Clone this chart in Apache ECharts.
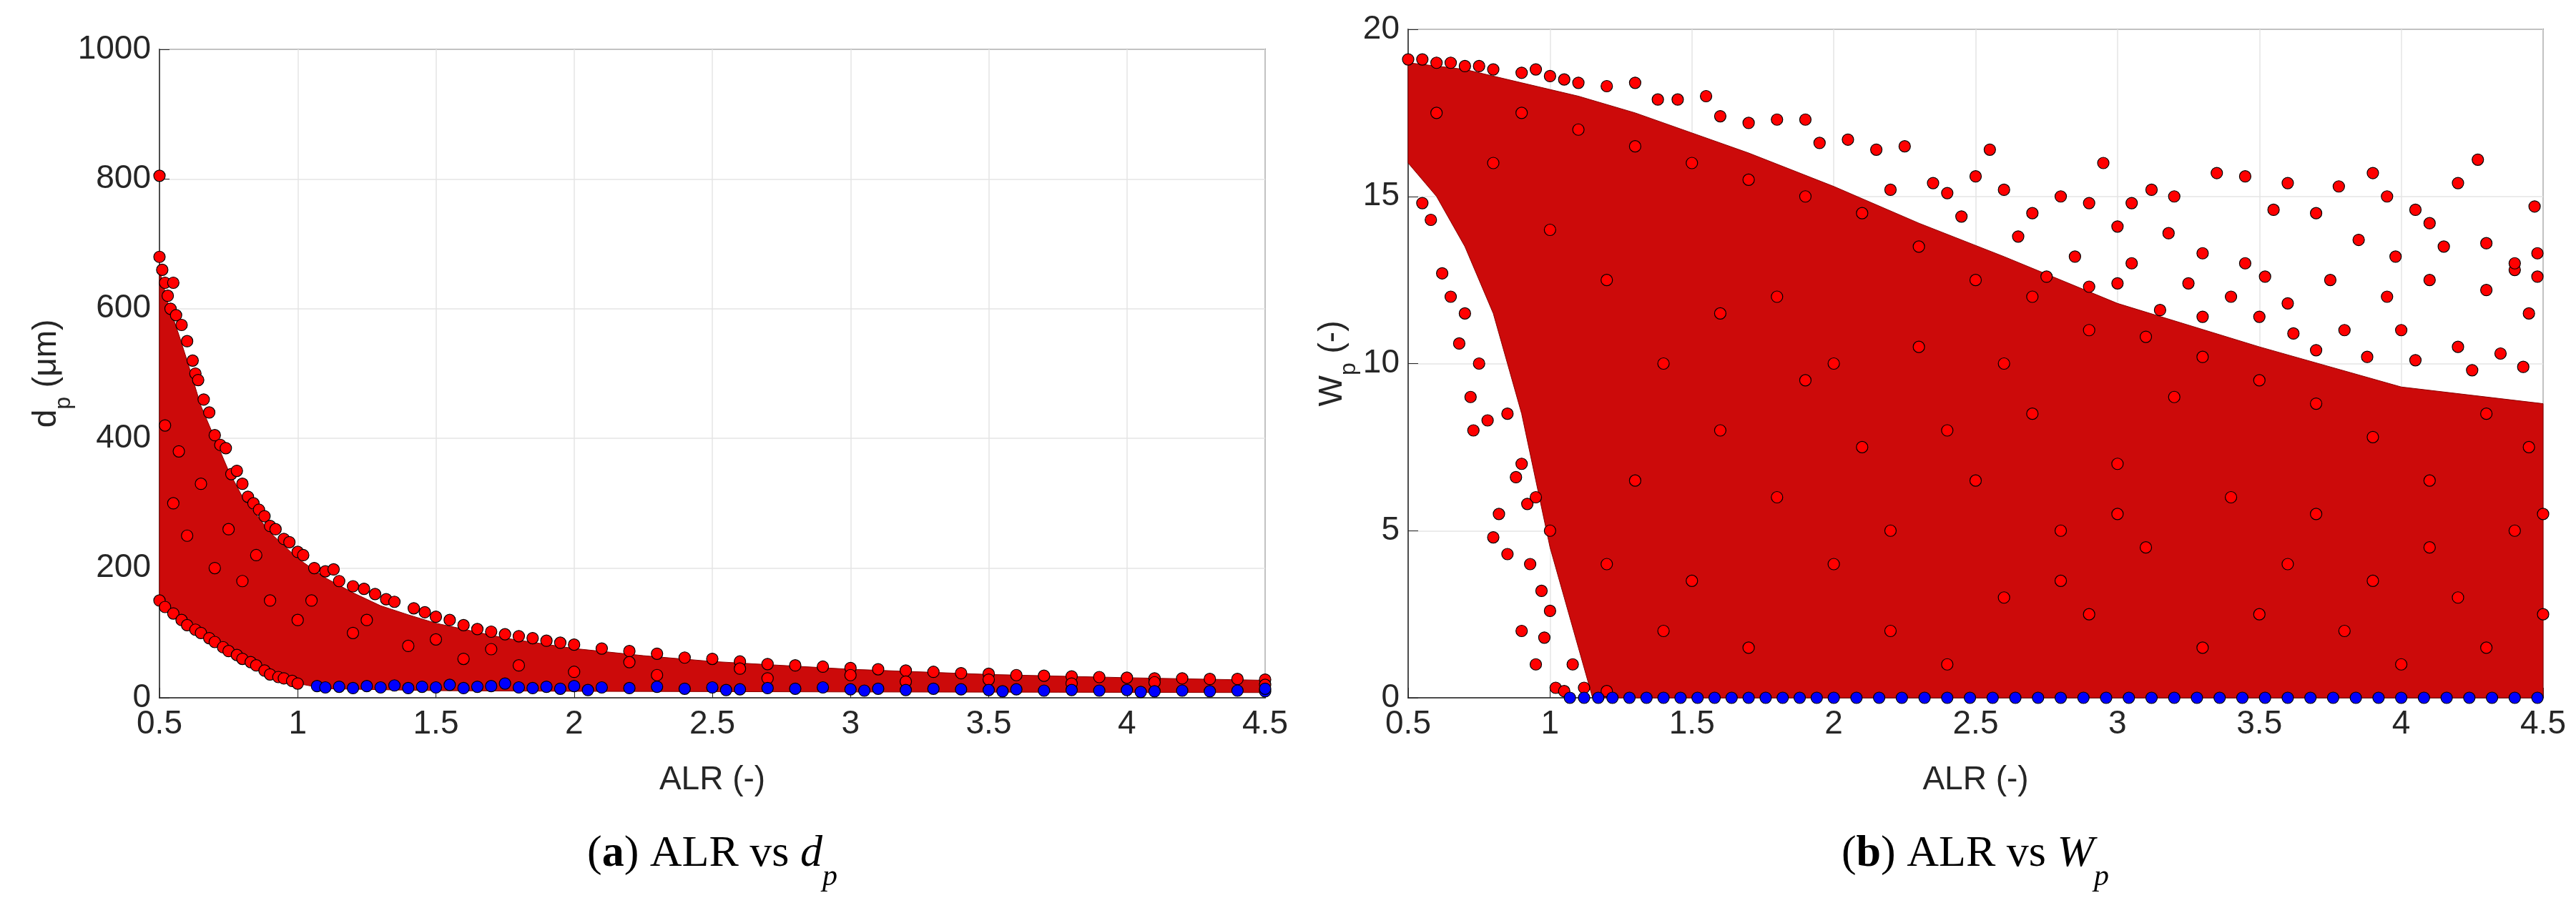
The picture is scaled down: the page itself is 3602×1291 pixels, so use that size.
<!DOCTYPE html>
<html><head><meta charset="utf-8">
<script src="https://cdn.jsdelivr.net/npm/echarts@6/dist/echarts.min.js"></script>
<style>html,body{margin:0;padding:0;background:#fff}#c{width:3602px;height:1291px}</style>
</head><body><div id="c"></div>
<script>
// ---- Panel (a): ALR vs dp ----
const xTicks = [0.5,1,1.5,2,2.5,3,3.5,4,4.5];
const dpDenseEnvelope = [[0.5,660],[0.53,610],[0.57,560],[0.6,520],[0.65,450],[0.7,400],[0.75,350],[0.8,310],[0.9,255],[1.0,215],[1.1,185],[1.2,162],[1.3,142],[1.4,128],[1.5,115],[1.75,92],[2,76],[2.25,65],[2.5,56],[3,44],[3.5,36],[4,31],[4.5,27],
  [4.5,8],[3,9],[2,10],[1.5,11],[1.1,14],[1.0,22],[0.95,30],[0.9,38],[0.85,50],[0.8,62],[0.75,72],[0.7,88],[0.65,100],[0.6,115],[0.55,132],[0.5,150]];
const dpRed = [[0.5,805],[0.5,680],[0.51,660],[0.52,640],[0.53,620],[0.54,600],[0.55,640],[0.56,590],[0.58,575],[0.6,550],[0.62,520],[0.63,500],[0.64,490],[0.66,460],[0.68,440],[0.7,405],[0.72,390],[0.74,385],[0.76,345],[0.78,350],[0.8,330],[0.82,310],[0.84,300],[0.86,290],[0.88,280],[0.9,265],[0.92,260],[0.95,245],[0.97,240],[1.0,225],[1.02,220],[1.06,200],[1.1,195],[1.13,198],[1.15,180],[1.2,172],[1.24,168],[1.28,160],[1.32,152],[1.35,148],[1.42,138],[1.46,132],[1.5,125],[1.55,120],[1.6,112],[1.65,106],[1.7,102],[1.75,98],[1.8,95],[1.85,92],[1.9,88],[1.95,85],[2.0,82],[2.1,76],[2.2,72],[2.3,68],[2.4,62],[2.5,60],[2.6,56],[2.7,52],[2.8,50],[2.9,48],[3.0,46],[3.1,44],[3.2,42],[3.3,40],[3.4,38],[3.5,37],[3.6,35],[3.7,34],[3.8,33],[3.9,32],[4.0,31],[4.1,30],[4.2,30],[4.3,29],[4.4,29],[4.5,28],[4.5,20],
  [0.5,150],[0.52,140],[0.55,130],[0.58,120],[0.6,112],[0.63,105],[0.65,100],[0.68,92],[0.7,86],[0.73,78],[0.75,72],[0.78,66],[0.8,60],[0.83,55],[0.85,50],[0.88,42],[0.9,36],[0.93,32],[0.95,30],[0.98,26],[1.0,22],
  [0.55,300],[0.6,250],[0.7,200],[0.8,180],[0.9,150],[1.0,120],[1.2,100],[1.4,80],[1.6,60],[1.8,50],[2.0,40],[2.3,35],[2.7,30],[3.2,25],[3.8,22],[0.52,420],[0.57,380],[0.65,330],[0.75,260],[0.85,220],[1.05,150],[1.25,120],[1.5,90],[1.7,75],[2.2,55],[2.6,45],[3.0,35],[3.5,28],[4.1,24]];
const dpBlue = [[1.07,18],[1.1,16],[1.15,17],[1.2,15],[1.25,18],[1.3,16],[1.35,19],[1.4,15],[1.45,17],[1.5,16],[1.55,20],[1.6,15],[1.65,17],[1.7,18],[1.75,22],[1.8,16],[1.85,15],[1.9,17],[1.95,14],[2.0,18],[2.1,16],[2.2,15],[2.3,17],[2.4,14],[2.5,16],[2.6,13],[2.7,15],[2.8,14],[2.9,16],[3.0,13],[3.1,14],[3.2,12],[3.3,14],[3.4,13],[3.5,12],[3.6,13],[3.7,11],[3.8,12],[3.9,11],[4.0,12],[4.1,10],[4.2,11],[4.3,10],[4.4,11],[4.5,10],[4.5,14],[2.05,12],[2.55,12],[3.05,11],[3.55,10],[4.05,9]];

// ---- Panel (b): ALR vs Wp ----
const wpDenseEnvelope = [[0.5,19.0],[0.7,18.8],[0.9,18.4],[1.1,18.0],[1.3,17.5],[1.5,16.9],[1.7,16.3],[2.0,15.3],[2.3,14.2],[2.6,13.2],[3.0,11.8],[3.5,10.5],[4.0,9.3],[4.5,8.8],
  [4.5,0],[1.15,0],[1.1,1.5],[1.05,3],[1.0,4.5],[0.95,6.5],[0.9,8.5],[0.85,10],[0.8,11.5],[0.7,13.5],[0.6,15],[0.5,16]];
const wpRed = [[0.5,19.1],[0.55,19.1],[0.6,19.0],[0.65,19.0],[0.7,18.9],[0.75,18.9],[0.8,18.8],[0.9,18.7],[0.95,18.8],[1.0,18.6],[1.05,18.5],[1.1,18.4],[1.2,18.3],[1.3,18.4],[1.38,17.9],[1.45,17.9],[1.55,18.0],[1.6,17.4],[1.7,17.2],[1.8,17.3],[1.9,17.3],[1.95,16.6],[2.05,16.7],[2.15,16.4],[2.25,16.5],[2.35,15.4],[2.4,15.1],[2.55,16.4],[2.5,15.6],[2.6,15.2],[2.7,14.5],[2.8,15.0],[2.9,14.8],[2.95,16.0],[3.0,14.1],[3.05,14.8],[3.12,15.2],[3.2,15.0],[3.35,15.7],[3.45,15.6],[3.6,15.4],[3.7,14.5],[3.78,15.3],[3.9,15.7],[3.95,15.0],[4.05,14.6],[4.2,15.4],[4.27,16.1],[4.47,14.7],[4.48,13.3],[4.3,13.6],[4.1,14.2],[3.85,13.7],[3.55,14.6],[3.45,13.0],[3.3,13.3],[3.18,13.9],[3.05,13.0],[2.85,13.2],[2.75,12.6],[3.4,12.0],[3.6,11.8],[3.75,12.5],[3.95,12.0],[4.1,12.5],[4.3,12.2],[4.4,12.8],[4.45,11.5],[4.35,10.3],[4.2,10.5],[4.0,11.0],[3.8,11.0],[3.62,10.9],[3.5,11.4],[3.3,11.4],[3.15,11.6],[3.0,12.4],[2.9,12.3],[4.43,9.9],[4.25,9.8],[4.05,10.1],[3.88,10.2],[3.7,10.4],[4.48,12.6],[3.98,13.2],[4.4,13.0],[3.25,12.4],[3.52,12.6],[4.15,13.5],[2.65,13.8],[2.45,14.4],[2.2,15.2],
  [0.55,14.8],[0.58,14.3],[0.62,12.7],[0.65,12.0],[0.68,10.6],[0.7,11.5],[0.72,9.0],[0.73,8.0],[0.75,10.0],[0.78,8.3],[0.8,4.8],[0.82,5.5],[0.85,4.3],[0.85,8.5],[0.88,6.6],[0.9,2.0],[0.93,4.0],[0.95,1.0],[0.97,3.2],[0.98,1.8],[1.0,2.6],[1.02,0.3],[1.05,0.2],[1.08,1.0],[1.12,0.3],[1.2,0.2],[0.9,7.0],[0.92,5.8],[0.95,6.0],[1.0,5.0],
  [0.6,17.5],[0.8,16.0],[1.0,14.0],[1.2,12.5],[1.4,10.0],[1.6,8.0],[1.8,6.0],[2.0,4.0],[2.2,2.0],[2.4,1.0],[2.6,3.0],[2.8,5.0],[3.0,7.0],[3.2,9.0],[3.4,6.0],[3.6,4.0],[3.8,2.0],[4.0,1.0],[4.2,3.0],[4.4,5.0],[4.45,7.5],[4.3,8.5],[4.1,6.5],[3.9,7.8],[3.7,8.8],[3.5,9.5],[3.3,10.2],[3.1,10.8],[2.9,11.0],[2.7,12.0],[2.5,12.5],[2.3,13.5],[2.1,14.5],[1.9,15.0],[1.7,15.5],[1.5,16.0],[1.3,16.5],[1.1,17.0],[0.9,17.5],[1.3,6.5],[1.5,3.5],[1.7,1.5],[1.9,9.5],[2.1,7.5],[2.3,10.5],[2.5,6.5],[2.7,8.5],[2.9,2.5],[3.1,4.5],[3.3,1.5],[3.5,2.5],[3.7,5.5],[3.9,3.5],[4.1,4.5],[4.3,1.5],[4.5,2.5],[4.5,5.5],[1.2,4.0],[1.4,2.0],[1.6,11.5],[1.8,12.0],[2.0,10.0],[2.2,5.0],[2.4,8.0],[2.6,10.0],[2.8,3.5],[3.0,5.5]];
const wpBlue = [1.07,1.12,1.17,1.22,1.28,1.34,1.4,1.46,1.52,1.58,1.64,1.7,1.76,1.82,1.88,1.94,2.0,2.08,2.16,2.24,2.32,2.4,2.48,2.56,2.64,2.72,2.8,2.88,2.96,3.04,3.12,3.2,3.28,3.36,3.44,3.52,3.6,3.68,3.76,3.84,3.92,4.0,4.08,4.16,4.24,4.32,4.4,4.48];
const wpBlueY = 0;

const TXT = '#262626';
const FONT = 'Liberation Sans';
function axisX(gi){return {type:'value',gridIndex:gi,min:0.5,max:4.5,interval:0.5,name:'ALR (-)',nameLocation:'middle',nameGap:92,
  nameTextStyle:{fontFamily:FONT,fontSize:46,color:TXT},
  axisLine:{lineStyle:{color:TXT,width:1.5}},axisTick:{inside:true,length:14,lineStyle:{color:TXT}},
  axisLabel:{fontFamily:FONT,fontSize:46,color:TXT,margin:14,formatter:v=>String(v)},
  splitLine:{show:true,lineStyle:{color:'#e4e4e4',width:1.5}}};}
function axisY(gi,min,max,iv,nameRich,gap){return {type:'value',gridIndex:gi,min:min,max:max,interval:iv,
  name:nameRich,nameLocation:'middle',nameGap:gap,nameRotate:90,
  nameTextStyle:{fontFamily:FONT,fontSize:46,color:TXT,rich:{a:{fontFamily:FONT,fontSize:46,color:TXT},s:{fontFamily:FONT,fontSize:32,color:TXT,verticalAlign:'bottom',padding:[0,0,-16,0]}}},
  axisLine:{lineStyle:{color:TXT,width:1.5}},axisTick:{inside:true,length:14,lineStyle:{color:TXT}},
  axisLabel:{fontFamily:FONT,fontSize:46,color:TXT,margin:12,formatter:v=>String(v)},
  splitLine:{show:true,lineStyle:{color:'#e4e4e4',width:1.5}}};}

function poly(gi,env){return {type:'custom',xAxisIndex:gi,yAxisIndex:gi,data:[[0,0]],silent:true,z:1,
  renderItem:(params,api)=>({type:'polygon',shape:{points:env.map(p=>api.coord(p))},style:{fill:'#cc0a0a',stroke:'#8a0000',lineWidth:1}})};}
function scat(gi,data,color){return {type:'scatter',xAxisIndex:gi,yAxisIndex:gi,data:data,symbolSize:16,z:3,
  itemStyle:{color:color,borderColor:'#000',borderWidth:1.2,opacity:1}};}

const chart = echarts.init(document.getElementById('c'));
const capRich = {b:{fontFamily:'Liberation Serif',fontWeight:'bold',fontSize:62,fill:'#000'},i:{fontFamily:'Liberation Serif',fontStyle:'italic',fontSize:62},s:{fontFamily:'Liberation Serif',fontStyle:'italic',fontSize:42,verticalAlign:'bottom',padding:[0,0,-22,0]}};
chart.setOption({
  backgroundColor:'#fff',animation:false,
  grid:[{left:223,right:1833,top:69,bottom:315,show:true,borderColor:TXT,borderWidth:1.5,backgroundColor:'#fff'},
        {left:1969,right:46,top:41,bottom:315,show:true,borderColor:TXT,borderWidth:1.5,backgroundColor:'#fff'}],
  xAxis:[axisX(0),axisX(1)],
  yAxis:[axisY(0,0,1000,200,'{a|d}{s|p}{a| (μm)}',110),axisY(1,0,20,5,'{a|W}{s|p}{a| (-)}',80)],
  series:[poly(0,dpDenseEnvelope),scat(0,dpRed,'#ff0000'),scat(0,dpBlue,'#0000ff'),
          poly(1,wpDenseEnvelope),scat(1,wpRed,'#ff0000'),scat(1,wpBlue.map(x=>[x,wpBlueY]),'#0000ff')],
  graphic:[
    {type:'text',x:996,y:1195,style:{text:'({b|a}) ALR vs {i|d}{s|p}',align:'center',verticalAlign:'middle',fontFamily:'Liberation Serif',fontSize:62,fill:'#000',rich:capRich}},
    {type:'text',x:2762,y:1195,style:{text:'({b|b}) ALR vs {i|W}{s|p}',align:'center',verticalAlign:'middle',fontFamily:'Liberation Serif',fontSize:62,fill:'#000',rich:capRich}}
  ]
});
</script></body></html>
